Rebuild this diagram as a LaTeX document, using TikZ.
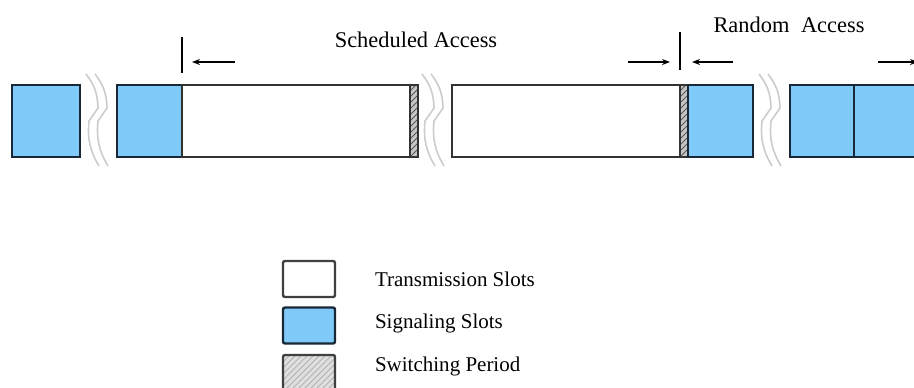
\documentclass[tikz,border=0pt]{standalone}
\usepackage{fontspec}
\setmainfont{Liberation Serif}
\usetikzlibrary{arrows.meta, patterns}
\definecolor{sigblue}{RGB}{128,202,250}
\definecolor{sigline}{RGB}{25,40,55}

\begin{document}
\begin{tikzpicture}[x=0.5pt, y=-0.5pt,
  slot/.style={rectangle, draw=black!80, line width=1.2pt, minimum height=36pt,
               inner sep=0pt, outer sep=0pt},
  txslot/.style={slot, fill=white, minimum width=114pt},
  sigslot/.style={slot, fill=sigblue, draw=sigline, minimum width=32.5pt},
  swslot/.style={slot, line width=0.6pt, minimum width=4pt, preaction={fill=gray!45},
                 pattern=north east lines, pattern color=gray!70!black},
  key/.style={rectangle, draw=black!75, line width=1.2pt, rounded corners=1pt,
              minimum width=26pt, minimum height=18pt, inner sep=0pt},
  keytext/.style={anchor=west, font=\fontsize{10.5}{12}\selectfont},
  title/.style={font=\fontsize{11.2}{13}\selectfont},
  brk/.style={gray!40, line width=0.8pt},
  bar/.style={line width=1.4pt},
  arr/.style={line width=0.7pt, -{Stealth[length=4pt, width=3pt]}}
]
\useasboundingbox (0,0) rectangle (914,387);

% frame row
\node[sigslot, minimum width=34pt] (s1) at (46,121) {};
\node[sigslot] (s2) at (149.5,121) {};
\node[txslot]  (t1) at (296,121) {};
\node[swslot]  (w1) at (414,121) {};
\node[txslot]  (t2) at (566,121) {};
\node[swslot]  (w2) at (684,121) {};
\node[sigslot] (s3) at (720.5,121) {};
\node[sigslot, minimum width=32pt] (s4) at (822,121) {};
\node[sigslot, minimum width=40pt] (s5) at (894,121) {};

% breaks
\foreach \x in {86,422,759}
  \foreach \o in {0,9}
    \draw[brk] (\x+\o,74) to[bend left=18] (\x+\o+12,108) -- (\x+\o+3,121)
               to[bend right=18] (\x+\o+13,166);

% access boundaries
\coordinate (b1top) at (182,37);  \coordinate (b1bot) at (182,73);
\coordinate (b2top) at (680,32);  \coordinate (b2bot) at (680,70);
\draw[bar] (b1top) -- (b1bot);
\draw[bar] (b2top) -- (b2bot);

\coordinate (a1s) at (235,62); \coordinate (a1e) at (192,62);
\coordinate (a2s) at (628,62); \coordinate (a2e) at (670,62);
\coordinate (a3s) at (733,62); \coordinate (a3e) at (692,62);
\coordinate (a4s) at (878,62); \coordinate (a4e) at (918,62);
\draw[arr] (a1s) -- (a1e);
\draw[arr] (a2s) -- (a2e);
\draw[arr] (a3s) -- (a3e);
\draw[arr] (a4s) -- (a4e);

\node[title] (sched) at (416,40) {Scheduled Access};
\node[title] (rand)  at (789,25) {Random\hspace{3pt} Access};

% legend
\node[key, fill=white] (k1) at (309,279) {};
\node[key, fill=sigblue, draw=sigline] (k2) at (309,325.5) {};
\node[key, preaction={fill=gray!25}, pattern=north east lines,
      pattern color=gray!60] (k3) at (309,373) {};
\node[keytext] (l1) at (368,279) {Transmission Slots};
\node[keytext] (l2) at (368,323) {Signaling Slots};
\node[keytext] (l3) at (368,366) {Switching Period};
\end{tikzpicture}
\end{document}
